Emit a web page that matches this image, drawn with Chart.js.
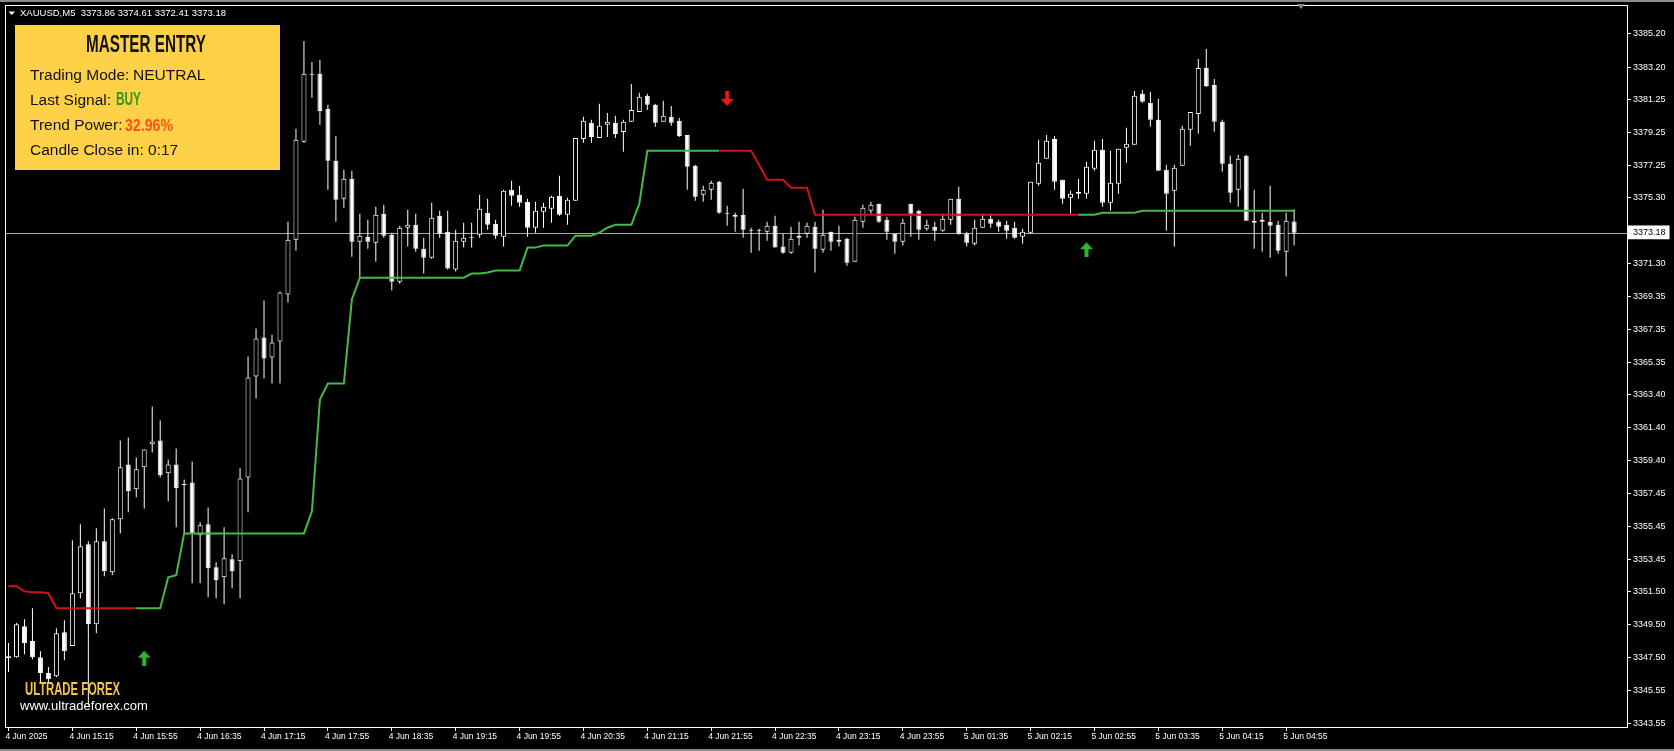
<!DOCTYPE html>
<html>
<head>
<meta charset="utf-8">
<title>XAUUSD,M5 - Master Entry</title>
<script src="https://cdn.jsdelivr.net/npm/chart.js@4.4.1/dist/chart.umd.min.js"></script>
<style>
  html, body { margin: 0; padding: 0; background: #000; overflow: hidden; }
  canvas { display: block; }
</style>
</head>
<body>
<canvas id="myChart" width="1674" height="751"></canvas>
<script>
const ctx = document.getElementById('myChart');

// M5 candles, bar 0 = 4 Jun 14:35 ... bar 161 = 5 Jun 05:00
const openPrices = [
  3347.48, 3347.54, 3349.41, 3348.51, 3347.54, 3346.58, 3346.39, 3349.05, 3348.21, 3351.40,
  3354.36, 3349.53, 3354.54, 3352.67, 3355.87, 3359.19, 3357.68, 3359.01, 3360.40, 3360.64,
  3358.65, 3359.19, 3357.95, 3358.10, 3354.90, 3355.57, 3352.97, 3352.37, 3353.46, 3353.34,
  3358.40, 3364.50, 3366.85, 3365.65, 3366.61, 3369.45, 3372.77, 3378.68, 3382.73, 3382.79,
  3380.67, 3377.54, 3375.24, 3376.45, 3372.65, 3372.95, 3372.59, 3374.34, 3373.07, 3370.23,
  3373.49, 3373.67, 3372.22, 3371.68, 3374.22, 3373.25, 3370.96, 3372.65, 3372.85, 3373.07,
  3374.40, 3373.73, 3372.95, 3375.79, 3375.48, 3375.06, 3373.49, 3374.46, 3374.64, 3375.42,
  3374.28, 3375.12, 3378.86, 3379.83, 3378.92, 3379.71, 3379.83, 3379.28, 3379.89, 3380.49,
  3381.46, 3380.92, 3379.89, 3380.19, 3379.95, 3379.10, 3377.23, 3375.48, 3375.79, 3376.27,
  3374.36, 3374.28, 3374.28, 3373.33, 3373.31, 3373.25, 3373.61, 3372.35, 3371.98, 3372.89,
  3373.13, 3373.55, 3372.16, 3373.25, 3372.77, 3372.83, 3371.44, 3373.85, 3374.52, 3374.94,
  3373.97, 3373.13, 3372.65, 3374.94, 3374.52, 3373.43, 3373.55, 3373.31, 3373.97, 3375.24,
  3373.13, 3372.53, 3373.49, 3374.04, 3373.85, 3373.67, 3373.49, 3372.95, 3373.19, 3376.15,
  3377.66, 3378.86, 3376.39, 3375.30, 3375.66, 3375.54, 3377.05, 3378.20, 3375.00, 3376.15,
  3378.32, 3378.50, 3381.58, 3381.04, 3380.01, 3376.99, 3375.73, 3377.23, 3379.41, 3380.37,
  3383.15, 3382.12, 3379.89, 3377.35, 3375.79, 3377.84, 3373.91, 3373.85, 3373.85, 3373.67,
  3372.04, 3373.86
];
const highPrices = [
  3348.39, 3349.60, 3349.83, 3350.50, 3347.90, 3346.94, 3349.29, 3349.77, 3354.60, 3355.57,
  3354.54, 3355.33, 3356.53, 3355.93, 3360.64, 3360.82, 3359.61, 3360.09, 3362.69, 3361.84,
  3359.49, 3360.15, 3358.28, 3359.37, 3355.69, 3356.59, 3353.27, 3355.39, 3353.76, 3358.95,
  3365.71, 3367.40, 3369.09, 3367.03, 3369.63, 3373.85, 3379.47, 3384.78, 3383.51, 3383.63,
  3380.92, 3379.04, 3376.99, 3376.93, 3374.34, 3373.97, 3374.76, 3374.88, 3373.19, 3373.61,
  3374.58, 3374.34, 3372.89, 3375.00, 3374.52, 3374.52, 3373.37, 3373.79, 3373.79, 3375.48,
  3375.24, 3373.97, 3375.79, 3376.33, 3376.03, 3375.24, 3375.06, 3375.00, 3375.42, 3376.63,
  3375.30, 3378.92, 3380.19, 3380.01, 3380.98, 3380.43, 3380.25, 3380.01, 3382.18, 3381.64,
  3381.58, 3380.98, 3381.16, 3380.85, 3380.13, 3379.10, 3377.29, 3376.03, 3376.33, 3376.33,
  3374.82, 3374.40, 3375.85, 3373.49, 3373.43, 3373.85, 3374.22, 3373.13, 3373.55, 3373.85,
  3373.79, 3373.85, 3374.58, 3373.25, 3373.61, 3372.89, 3374.16, 3374.88, 3375.06, 3374.94,
  3374.16, 3373.13, 3374.04, 3374.94, 3374.58, 3373.97, 3373.85, 3374.34, 3375.24, 3375.97,
  3373.25, 3373.97, 3374.34, 3374.34, 3373.97, 3373.91, 3373.85, 3373.43, 3376.27, 3378.80,
  3379.10, 3379.04, 3376.39, 3375.73, 3376.45, 3377.48, 3378.74, 3378.86, 3378.14, 3378.26,
  3379.53, 3381.76, 3381.82, 3381.70, 3381.28, 3377.29, 3377.29, 3379.65, 3380.49, 3383.69,
  3384.29, 3382.48, 3380.01, 3377.84, 3377.90, 3377.90, 3375.79, 3374.40, 3376.03, 3373.91,
  3374.40, 3374.61
];
const lowPrices = [
  3346.64, 3347.50, 3347.72, 3347.42, 3345.97, 3346.00, 3346.33, 3347.36, 3348.21, 3351.10,
  3344.64, 3348.99, 3352.43, 3352.49, 3355.02, 3356.29, 3357.20, 3356.53, 3359.91, 3358.40,
  3356.96, 3355.39, 3355.02, 3352.01, 3352.01, 3351.16, 3351.10, 3350.74, 3351.71, 3351.10,
  3356.29, 3363.17, 3364.38, 3364.08, 3364.08, 3368.97, 3372.10, 3378.62, 3381.34, 3379.71,
  3375.79, 3373.85, 3374.70, 3371.74, 3370.47, 3372.22, 3371.44, 3372.89, 3369.69, 3370.11,
  3372.35, 3372.04, 3370.72, 3371.62, 3372.89, 3370.96, 3370.84, 3372.29, 3372.29, 3372.89,
  3373.37, 3372.83, 3372.35, 3374.82, 3374.76, 3372.95, 3373.19, 3373.49, 3373.79, 3374.22,
  3373.67, 3375.12, 3378.62, 3378.62, 3378.92, 3378.98, 3378.92, 3378.08, 3379.89, 3380.49,
  3380.61, 3379.59, 3379.89, 3379.65, 3378.98, 3375.79, 3375.12, 3375.06, 3375.18, 3374.34,
  3373.61, 3373.25, 3372.89, 3371.98, 3372.10, 3372.71, 3372.29, 3371.92, 3371.92, 3372.41,
  3372.89, 3370.78, 3371.98, 3372.10, 3372.35, 3371.20, 3371.44, 3373.49, 3374.34, 3373.79,
  3372.77, 3371.92, 3372.41, 3372.95, 3372.77, 3373.31, 3372.71, 3373.25, 3373.67, 3373.07,
  3372.35, 3372.41, 3373.49, 3373.49, 3373.25, 3372.83, 3372.83, 3372.53, 3373.13, 3376.03,
  3377.66, 3375.79, 3374.94, 3374.34, 3375.24, 3375.24, 3376.93, 3374.76, 3374.52, 3375.54,
  3377.41, 3378.50, 3381.04, 3379.59, 3376.93, 3373.31, 3372.35, 3377.23, 3378.44, 3379.17,
  3382.00, 3379.29, 3376.87, 3375.00, 3374.76, 3373.91, 3372.22, 3372.04, 3371.68, 3371.92,
  3370.54, 3372.41
];
const closePrices = [
  3347.60, 3349.53, 3348.39, 3347.54, 3346.58, 3346.21, 3348.99, 3347.90, 3351.40, 3354.24,
  3349.53, 3354.54, 3352.73, 3355.87, 3359.01, 3357.56, 3358.89, 3360.09, 3360.58, 3358.53,
  3359.19, 3357.74, 3358.00, 3355.02, 3355.51, 3352.91, 3352.19, 3353.52, 3352.73, 3358.34,
  3364.44, 3366.79, 3365.59, 3366.55, 3369.57, 3372.77, 3378.80, 3382.79, 3382.79, 3380.55,
  3377.54, 3375.18, 3376.45, 3372.65, 3373.01, 3372.65, 3374.28, 3373.01, 3370.23, 3373.49,
  3373.67, 3372.22, 3371.68, 3374.10, 3373.13, 3371.02, 3372.71, 3372.89, 3372.89, 3374.64,
  3373.67, 3373.01, 3375.72, 3375.42, 3375.00, 3373.49, 3374.52, 3374.76, 3375.36, 3374.28,
  3375.18, 3378.92, 3379.95, 3378.98, 3379.65, 3379.89, 3379.16, 3379.89, 3380.61, 3381.40,
  3380.92, 3379.83, 3380.25, 3379.83, 3379.04, 3377.17, 3375.36, 3375.79, 3376.21, 3374.40,
  3374.34, 3374.16, 3373.37, 3373.31, 3373.33, 3373.61, 3372.29, 3371.98, 3372.83, 3373.01,
  3373.61, 3372.22, 3373.07, 3372.65, 3372.65, 3371.38, 3373.97, 3374.70, 3374.88, 3373.85,
  3373.25, 3372.65, 3373.79, 3374.34, 3373.37, 3373.67, 3373.31, 3374.04, 3375.24, 3373.13,
  3372.59, 3373.49, 3374.04, 3373.73, 3373.55, 3373.31, 3372.89, 3373.25, 3376.27, 3377.41,
  3378.74, 3376.27, 3375.24, 3375.54, 3375.54, 3377.17, 3378.20, 3375.00, 3376.21, 3378.26,
  3378.56, 3381.46, 3381.10, 3380.01, 3376.93, 3375.54, 3377.11, 3379.47, 3380.49, 3383.15,
  3382.06, 3379.89, 3377.35, 3375.60, 3377.66, 3373.91, 3373.79, 3373.97, 3373.61, 3372.10,
  3373.91, 3373.18
];

// Master Entry trailing line, one value per bar
const trendLine = [
  3351.83, 3351.83, 3351.52, 3351.46, 3351.46, 3351.40, 3350.50, 3350.50, 3350.50, 3350.50,
  3350.50, 3350.50, 3350.50, 3350.50, 3350.50, 3350.50, 3350.50, 3350.50, 3350.50, 3350.50,
  3352.37, 3352.49, 3355.02, 3355.02, 3355.02, 3355.02, 3355.02, 3355.02, 3355.02, 3355.02,
  3355.02, 3355.02, 3355.02, 3355.02, 3355.02, 3355.02, 3355.02, 3355.02, 3356.35, 3363.11,
  3364.08, 3364.08, 3364.08, 3369.15, 3370.47, 3370.47, 3370.47, 3370.47, 3370.47, 3370.47,
  3370.47, 3370.47, 3370.47, 3370.47, 3370.47, 3370.47, 3370.47, 3370.47, 3370.72, 3370.72,
  3370.78, 3370.90, 3370.90, 3370.90, 3370.90, 3372.29, 3372.29, 3372.41, 3372.41, 3372.41,
  3372.41, 3373.01, 3373.01, 3373.01, 3373.19, 3373.49, 3373.67, 3373.67, 3373.67, 3374.94,
  3378.14, 3378.14, 3378.14, 3378.14, 3378.14, 3378.14, 3378.14, 3378.14, 3378.14, 3378.14,
  3378.14, 3378.14, 3378.14, 3378.14, 3377.29, 3376.39, 3376.39, 3376.39, 3375.91, 3375.91,
  3375.91, 3374.28, 3374.28, 3374.28, 3374.28, 3374.28, 3374.28, 3374.28, 3374.28, 3374.28,
  3374.28, 3374.28, 3374.28, 3374.28, 3374.28, 3374.28, 3374.28, 3374.28, 3374.28, 3374.28,
  3374.28, 3374.28, 3374.28, 3374.28, 3374.28, 3374.28, 3374.28, 3374.28, 3374.28, 3374.28,
  3374.28, 3374.28, 3374.28, 3374.28, 3374.28, 3374.28, 3374.28, 3374.40, 3374.40, 3374.40,
  3374.40, 3374.40, 3374.52, 3374.52, 3374.52, 3374.52, 3374.52, 3374.52, 3374.52, 3374.52,
  3374.52, 3374.52, 3374.52, 3374.52, 3374.52, 3374.52, 3374.52, 3374.52, 3374.52, 3374.52,
  3374.52, 3374.52
];
// bar where each colour run of the line starts
const trendRuns = [[0, 'down'], [16, 'up'], [89, 'down'], [134, 'up']];

// signal arrows [bar, price]
const buyArrows = [[17, 3347.48], [135, 3372.16]];
const sellArrows = [[90, 3381.31]];

// axis labels
const timeLabels = ['4 Jun 2025', '4 Jun 15:15', '4 Jun 15:55', '4 Jun 16:35', '4 Jun 17:15',
  '4 Jun 17:55', '4 Jun 18:35', '4 Jun 19:15', '4 Jun 19:55', '4 Jun 20:35', '4 Jun 21:15',
  '4 Jun 21:55', '4 Jun 22:35', '4 Jun 23:15', '4 Jun 23:55', '5 Jun 01:35', '5 Jun 02:15',
  '5 Jun 02:55', '5 Jun 03:35', '5 Jun 04:15', '5 Jun 04:55'];
const priceTicks = [3343.55, 3345.55, 3347.50, 3349.50, 3351.50, 3353.45, 3355.45, 3357.45,
  3359.40, 3361.40, 3363.40, 3365.35, 3367.35, 3369.35, 3371.30, 3375.30, 3377.25, 3379.25,
  3381.25, 3383.20, 3385.20];
const bidPrice = 3373.18;

const last = closePrices.length - 1;
const bullFill = '#000000';
const bearFill = '#ffffff';
const lineGreen = '#46b946';
const lineRed = '#cc1616';

function trendAt(i) {
  let dir = trendRuns[0][1];
  trendRuns.forEach(r => { if (i >= r[0]) dir = r[1]; });
  return dir;
}

// thick MT4 style arrow used as a point style
function makeArrow(color, up) {
  const c = document.createElement('canvas');
  c.width = 13; c.height = 15;
  const g = c.getContext('2d');
  g.fillStyle = color;
  g.beginPath();
  if (up) {
    g.moveTo(6.5, 0); g.lineTo(13, 7); g.lineTo(8.5, 7); g.lineTo(8.5, 15);
    g.lineTo(4.5, 15); g.lineTo(4.5, 7); g.lineTo(0, 7);
  } else {
    g.moveTo(6.5, 15); g.lineTo(13, 8); g.lineTo(8.5, 8); g.lineTo(8.5, 0);
    g.lineTo(4.5, 0); g.lineTo(4.5, 8); g.lineTo(0, 8);
  }
  g.closePath();
  g.fill();
  return c;
}

// squeeze a text into a given width (condensed headline look)
function fitText(c, text, x, y, font, width, color) {
  c.save();
  c.font = font;
  c.fillStyle = color;
  c.textAlign = 'left';
  c.textBaseline = 'alphabetic';
  const k = width / c.measureText(text).width;
  c.translate(x, y);
  c.scale(k, 1);
  c.fillText(text, 0, 0);
  c.restore();
}

function plainText(c, text, x, y, font, color) {
  c.font = font;
  c.fillStyle = color;
  c.textAlign = 'left';
  c.textBaseline = 'alphabetic';
  c.fillText(text, x, y);
}

// keep the plot area fixed: no extra room reserved for edge labels
function noPadding(s) {
  s.paddingTop = 0;
  s.paddingBottom = 0;
  s.paddingLeft = 0;
  s.paddingRight = 0;
}

const decorPlugin = {
  id: 'decor',
  beforeDraw(chart) {
    const c = chart.ctx;
    c.save();
    c.fillStyle = '#000';
    c.fillRect(0, 0, chart.width, chart.height);
    c.fillStyle = '#8c8c8c';
    c.fillRect(0, 0, chart.width, 2);
    c.fillRect(0, chart.height - 2, chart.width, 2);
    c.restore();
  },
  beforeDatasetsDraw(chart) {
    // bid line
    const c = chart.ctx;
    const a = chart.chartArea;
    const py = Math.round(chart.scales.y.getPixelForValue(bidPrice)) + 0.5;
    c.save();
    c.strokeStyle = '#a8a8a8';
    c.lineWidth = 1;
    c.beginPath();
    c.moveTo(a.left, py);
    c.lineTo(a.right, py);
    c.stroke();
    c.restore();
  },
  afterDraw(chart) {
    const c = chart.ctx;
    const a = chart.chartArea;
    c.save();
    // chart frame
    c.strokeStyle = '#ffffff';
    c.lineWidth = 1;
    c.strokeRect(a.left + 0.5, a.top + 0.5, a.right - a.left, a.bottom - a.top);

    // shift marker
    c.fillStyle = '#7d8a96';
    c.beginPath();
    c.moveTo(1297, 4); c.lineTo(1305, 4); c.lineTo(1301, 9);
    c.closePath(); c.fill();

    // symbol header
    c.fillStyle = '#ffffff';
    c.beginPath();
    c.moveTo(8.5, 11.5); c.lineTo(15, 11.5); c.lineTo(11.75, 15);
    c.closePath(); c.fill();
    const ohlc = [openPrices[last], highPrices[last], lowPrices[last], closePrices[last]]
      .map(v => v.toFixed(2)).join(' ');
    plainText(c, 'XAUUSD,M5  ' + ohlc, 20, 16, '9.5px "Liberation Sans"', '#ffffff');

    // info panel
    c.fillStyle = '#ffd147';
    c.fillRect(15, 25, 265, 145);
    fitText(c, 'MASTER ENTRY', 86, 51.5, 'bold 24px "Liberation Sans"', 120, '#111111');
    const f = '15.5px "Liberation Sans"';
    plainText(c, 'Trading Mode:', 30, 80, f, '#111111');
    plainText(c, 'NEUTRAL', 133, 80, f, '#111111');
    plainText(c, 'Last Signal:', 30, 105, f, '#111111');
    fitText(c, 'BUY', 116, 105, 'bold 18px "Liberation Sans"', 25, '#2f9a1d');
    plainText(c, 'Trend Power:', 30, 130, f, '#111111');
    fitText(c, '32.96%', 125, 130.5, 'bold 17px "Liberation Sans"', 48, '#ff5014');
    plainText(c, 'Candle Close in: 0:17', 30, 155, f, '#111111');

    // watermark
    fitText(c, 'ULTRADE FOREX', 25, 695, 'bold 19px "Liberation Sans"', 95, '#f6c444');
    plainText(c, 'www.ultradeforex.com', 20, 710, '13px "Liberation Sans"', '#ffffff');
    c.restore();
  }
};

// bar i sits at 5.5 + 8*i px inside a chart area running from x=2 to x=1627
const xMin = -0.4375;
const xMax = 202.6875;
const yMin = 3343.32;
const yMax = 3386.95;

const bars = closePrices.map((v, i) => i);

new Chart(ctx, {
  type: 'bar',
  data: {
    datasets: [
      {
        type: 'scatter',
        label: 'Buy',
        data: buyArrows.map(p => ({ x: p[0], y: p[1] })),
        pointStyle: makeArrow('#2db82d', true),
        order: 0
      },
      {
        type: 'scatter',
        label: 'Sell',
        data: sellArrows.map(p => ({ x: p[0], y: p[1] })),
        pointStyle: makeArrow('#ff1414', false),
        order: 0
      },
      {
        type: 'line',
        label: 'Master Entry',
        data: bars.map(i => ({ x: i, y: trendLine[i] })),
        borderWidth: 2,
        pointRadius: 0,
        tension: 0,
        borderColor: lineGreen,
        segment: {
          borderColor: s => trendAt(s.p0DataIndex) === 'up' ? lineGreen : lineRed
        },
        order: 1
      },
      {
        label: 'Body',
        data: bars.map(i => ({ x: i, y: [openPrices[i], closePrices[i]] })),
        backgroundColor: bars.map(i => closePrices[i] >= openPrices[i] ? bullFill : bearFill),
        borderColor: '#ffffff',
        borderWidth: 1,
        borderSkipped: false,
        barThickness: 5,
        minBarLength: 1,
        inflateAmount: 0,
        grouped: false,
        order: 2
      },
      {
        label: 'Wick',
        data: bars.map(i => ({ x: i, y: [lowPrices[i], highPrices[i]] })),
        backgroundColor: '#ffffff',
        borderWidth: 0,
        barThickness: 1,
        minBarLength: 1,
        inflateAmount: 0,
        grouped: false,
        order: 3
      }
    ]
  },
  options: {
    responsive: false,
    animation: false,
    events: [],
    layout: { padding: { left: 2, top: 4, right: 0, bottom: 0 } },
    plugins: {
      legend: { display: false },
      tooltip: { enabled: false }
    },
    scales: {
      x: {
        type: 'linear',
        position: 'bottom',
        min: xMin,
        max: xMax,
        offset: false,
        border: { display: false },
        grid: {
          display: true, offset: false, drawOnChartArea: false, drawTicks: true,
          tickLength: 4, color: '#ffffff', tickColor: '#ffffff'
        },
        afterBuildTicks: s => { s.ticks = timeLabels.map((t, k) => ({ value: k * 8 })); },
        afterFit: s => { s.height = 24; noPadding(s); },
        ticks: {
          autoSkip: false,
          maxRotation: 0,
          minRotation: 0,
          align: 'start',
          labelOffset: -3,
          padding: 1,
          color: '#ffffff',
          font: { family: 'Liberation Sans', size: 8.5 },
          callback: (v, idx) => timeLabels[idx]
        }
      },
      y: {
        type: 'linear',
        position: 'right',
        min: yMin,
        max: yMax,
        border: { display: false },
        grid: {
          display: true, drawOnChartArea: false, drawTicks: true,
          tickLength: 4, color: '#ffffff', tickColor: '#ffffff'
        },
        afterBuildTicks: s => {
          s.ticks = priceTicks.concat([bidPrice]).sort((p, q) => p - q).map(v => ({ value: v }));
        },
        afterFit: s => { s.width = 47; noPadding(s); },
        ticks: {
          padding: 2,
          font: { family: 'Liberation Sans', size: 9 },
          color: c => c.tick.value === bidPrice ? '#000000' : '#ffffff',
          showLabelBackdrop: c => c.tick.value === bidPrice,
          backdropColor: '#ffffff',
          backdropPadding: { left: 5, right: 4, top: 2, bottom: 1 },
          callback: v => v.toFixed(2)
        }
      }
    }
  },
  plugins: [decorPlugin]
});
</script>
</body>
</html>
